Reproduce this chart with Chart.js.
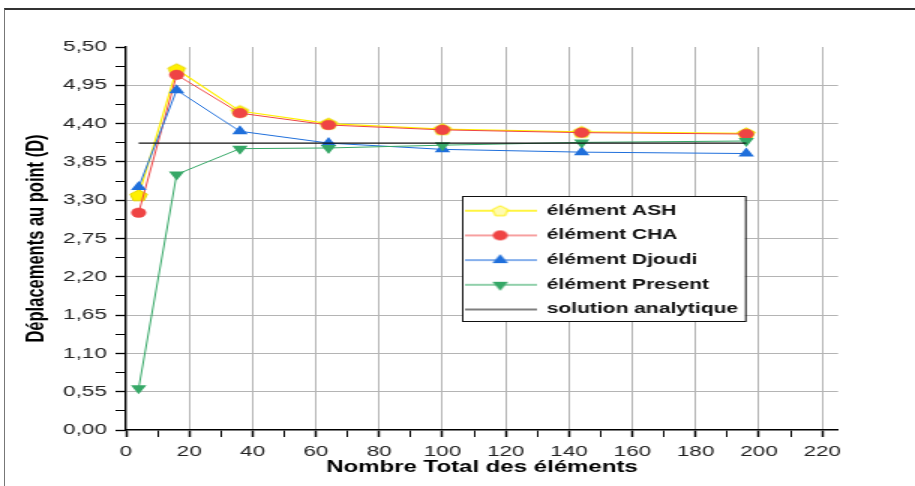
<!DOCTYPE html>
<html>
<head>
<meta charset="utf-8">
<script src="https://cdn.jsdelivr.net/npm/chart.js@4/dist/chart.umd.min.js"></script>
<style>
html, body { margin: 0; padding: 0; background: #fff; overflow: hidden; }
#frame { position: absolute; left: 4px; top: 8px; width: 915px; height: 480px; border-top: 2px solid #333; border-left: 1px solid #777; }
#wrap { position: absolute; left: 0; top: 0; width: 610px; height: 486px; transform: scaleX(1.5); transform-origin: 0 0; }
</style>
</head>
<body>
<div id="frame"></div>
<div id="wrap"><canvas id="chart" width="610" height="486"></canvas></div>
<script>
var xValues = [4, 16, 36, 64, 100, 144, 196];
var ashValues = [3.37, 5.18, 4.58, 4.40, 4.32, 4.28, 4.26];
var chaValues = [3.12, 5.10, 4.55, 4.38, 4.31, 4.27, 4.25];
var djoudiValues = [3.49, 4.88, 4.29, 4.12, 4.03, 3.99, 3.97];
var presentValues = [0.60, 3.67, 4.04, 4.05, 4.09, 4.13, 4.15];
var analyticX = [4, 196];
var analyticValue = 4.12;
var seriesNames = ["élément ASH", "élément CHA", "élément Djoudi", "élément Present", "solution analytique"];
var xTicks = [0, 20, 40, 60, 80, 100, 120, 140, 160, 180, 200, 220];
var yTicks = [0, 0.55, 1.10, 1.65, 2.20, 2.75, 3.30, 3.85, 4.40, 4.95, 5.50];

var yellow = "#FFF000", red = "#EF4444", blue = "#1F6FDB", green = "#36A867";
var gridGrey = "#b4b4b4";

function toPoints(xs, ys) {
  return xs.map(function (x, i) { return { x: x, y: ys[i] }; });
}

function isMajor(list, v) {
  return list.some(function (t) { return Math.abs(t - v) < 1e-6; });
}

// pentagon image used as point style for ASH
function makePentagon(r, fill, stroke) {
  var c = document.createElement("canvas");
  var s = Math.ceil(r * 2 + 3);
  c.width = s; c.height = s;
  var g = c.getContext("2d");
  g.beginPath();
  for (var k = 0; k < 5; k++) {
    var a = -Math.PI / 2 + k * 2 * Math.PI / 5;
    var px = s / 2 + Math.cos(a) * r, py = s / 2 + 0.5 + Math.sin(a) * r;
    if (k === 0) g.moveTo(px, py); else g.lineTo(px, py);
  }
  g.closePath();
  g.fillStyle = fill; g.fill();
  g.strokeStyle = stroke; g.lineWidth = 1; g.stroke();
  return c;
}

var pentagon = makePentagon(6, yellow, "#E5D500");

// legend sample: a line with the marker in the middle
function makeIcon(lineColor, fill, marker) {
  var c = document.createElement("canvas");
  c.width = 48; c.height = 14;
  var g = c.getContext("2d");
  g.strokeStyle = lineColor; g.lineWidth = 1.3;
  g.beginPath(); g.moveTo(0, 7); g.lineTo(48, 7); g.stroke();
  g.fillStyle = fill;
  if (marker === "circle") {
    g.beginPath(); g.arc(24, 7, 5, 0, Math.PI * 2); g.fill();
  } else if (marker === "up") {
    g.beginPath(); g.moveTo(24, 1); g.lineTo(29.2, 10); g.lineTo(18.8, 10); g.closePath(); g.fill();
  } else if (marker === "down") {
    g.beginPath(); g.moveTo(24, 13); g.lineTo(29.2, 4); g.lineTo(18.8, 4); g.closePath(); g.fill();
  } else if (marker === "pentagon") {
    var p = makePentagon(5.5, "#FFFBB0", yellow);
    g.drawImage(p, 24 - p.width / 2, 7 - p.height / 2);
  }
  return c;
}

var legendIcons = [
  makeIcon(yellow, yellow, "pentagon"),
  makeIcon("#F58080", red, "circle"),
  makeIcon("#5C95E6", blue, "up"),
  makeIcon("#6CC08F", green, "down"),
  makeIcon("#555555", "#555555", "none")
];

var legendBox = { left: 308, top: 196, width: 188.7, height: 125 };

var placeLegend = {
  id: "placeLegend",
  beforeLayout: function (chart) {
    var lg = chart.legend;
    if (lg && !lg._noSpace) {
      var fit = lg.fit;
      lg.fit = function () { fit.call(this); this.width = 0; };
      lg._noSpace = true;
    }
  },
  afterLayout: function (chart) {
    var lg = chart.legend;
    lg.left = 298.8; lg.top = 193;
    lg.right = 520; lg.bottom = 480;
  },
  afterDraw: function (chart) {
    var ctx = chart.ctx;
    ctx.save();
    ctx.fillStyle = "#fff";
    ctx.fillRect(legendBox.left, legendBox.top, legendBox.width, legendBox.height);
    ctx.strokeStyle = "#111";
    ctx.lineWidth = 1;
    ctx.strokeRect(legendBox.left + 0.5, legendBox.top + 0.5, legendBox.width, legendBox.height);
    ctx.restore();
    chart.legend.draw();
  }
};

var tickFont = { family: "Liberation Sans", size: 15 };

var ctx = document.getElementById("chart");
var myChart = new Chart(ctx, {
  type: "line",
  data: {
    datasets: [{
      label: seriesNames[0],
      data: toPoints(xValues, ashValues),
      borderColor: yellow, backgroundColor: yellow, borderWidth: 1.2,
      pointStyle: pentagon, order: 4
    }, {
      label: seriesNames[1],
      data: toPoints(xValues, chaValues),
      borderColor: red, backgroundColor: red, borderWidth: 1,
      pointStyle: "circle", pointRadius: 4.8, pointBorderWidth: 0.5, order: 3
    }, {
      label: seriesNames[2],
      data: toPoints(xValues, djoudiValues),
      borderColor: blue, backgroundColor: blue, borderWidth: 1,
      pointStyle: "triangle", pointRadius: 6, pointBorderWidth: 0, order: 2
    }, {
      label: seriesNames[3],
      data: toPoints(xValues, presentValues),
      borderColor: green, backgroundColor: green, borderWidth: 1,
      pointStyle: "triangle", pointRotation: 180, pointRadius: 6, pointBorderWidth: 0, order: 1
    }, {
      label: seriesNames[4],
      data: toPoints(analyticX, [analyticValue, analyticValue]),
      borderColor: "#111", backgroundColor: "#111", borderWidth: 1.2,
      pointRadius: 0, order: 0
    }]
  },
  options: {
    responsive: false,
    animation: false,
    events: [],
    layout: { padding: { top: 47, right: 51.3, bottom: 0, left: 0 } },
    elements: { line: { tension: 0 } },
    plugins: {
      tooltip: { enabled: false },
      legend: {
        display: true,
        position: "right",
        align: "start",
        labels: {
          usePointStyle: true,
          pointStyleWidth: 48,
          padding: 10.7,
          color: "#111",
          font: { family: "Liberation Sans", size: 14, weight: "bold" },
          sort: function (a, b) { return a.datasetIndex - b.datasetIndex; },
          generateLabels: function (chart) {
            var items = Chart.defaults.plugins.legend.labels.generateLabels(chart);
            items.forEach(function (it) {
              it.pointStyle = legendIcons[it.datasetIndex];
              it.rotation = 0;
            });
            return items;
          }
        }
      }
    },
    scales: {
      x: {
        type: "linear",
        min: 0,
        max: 225,
        afterFit: function (s) { s.height = 56; },
        afterBuildTicks: function (s) {
          var t = [];
          xTicks.forEach(function (v, i) {
            t.push({ value: v });
            if (i < xTicks.length - 1) t.push({ value: (v + xTicks[i + 1]) / 2 });
          });
          s.ticks = t;
        },
        ticks: {
          autoSkip: false,
          maxRotation: 0,
          padding: 6,
          color: "#222",
          font: tickFont,
          callback: function (v) { return isMajor(xTicks, v) ? String(v) : ""; }
        },
        grid: {
          color: function (c) { return c.tick && isMajor(xTicks, c.tick.value) && c.tick.value !== 0 ? gridGrey : "rgba(0,0,0,0)"; },
          lineWidth: 1,
          tickColor: "#000",
          tickLength: 7,
          tickWidth: function (c) { return c.tick && isMajor(xTicks, c.tick.value) ? 1.5 : 1; }
        },
        border: { display: true, color: "#000", width: 1.6 },
        title: {
          display: true,
          text: "Nombre Total des éléments",
          color: "#000",
          font: { family: "Liberation Sans", size: 16, weight: "bold" },
          padding: { top: 0, bottom: 8.4 }
        }
      },
      y: {
        type: "linear",
        min: 0,
        max: 5.5,
        afterFit: function (s) { s.width = 84; },
        afterBuildTicks: function (s) {
          var t = [];
          yTicks.forEach(function (v, i) {
            t.push({ value: v });
            if (i < yTicks.length - 1) t.push({ value: (v + yTicks[i + 1]) / 2 });
          });
          s.ticks = t;
        },
        ticks: {
          autoSkip: false,
          padding: 5.7,
          color: "#222",
          font: tickFont,
          callback: function (v) { return isMajor(yTicks, v) ? v.toFixed(2).replace(".", ",") : ""; }
        },
        grid: {
          color: function (c) {
            var v = c.tick ? c.tick.value : 0;
            return isMajor(yTicks, v) && v > 0.01 && v < 5.4 ? gridGrey : "rgba(0,0,0,0)";
          },
          lineWidth: 1,
          tickColor: "#000",
          tickLength: 7,
          tickWidth: function (c) { return c.tick && isMajor(yTicks, c.tick.value) ? 1.3 : 1; }
        },
        border: { display: true, color: "#000", width: 1.4 },
        title: {
          display: true,
          text: "Déplacements au point (D)",
          color: "#000",
          font: { family: "Liberation Sans", size: 16.5, weight: "bold" },
          padding: { top: 14.8, bottom: 0 }
        }
      }
    }
  },
  plugins: [placeLegend]
});
</script>
</body>
</html>
